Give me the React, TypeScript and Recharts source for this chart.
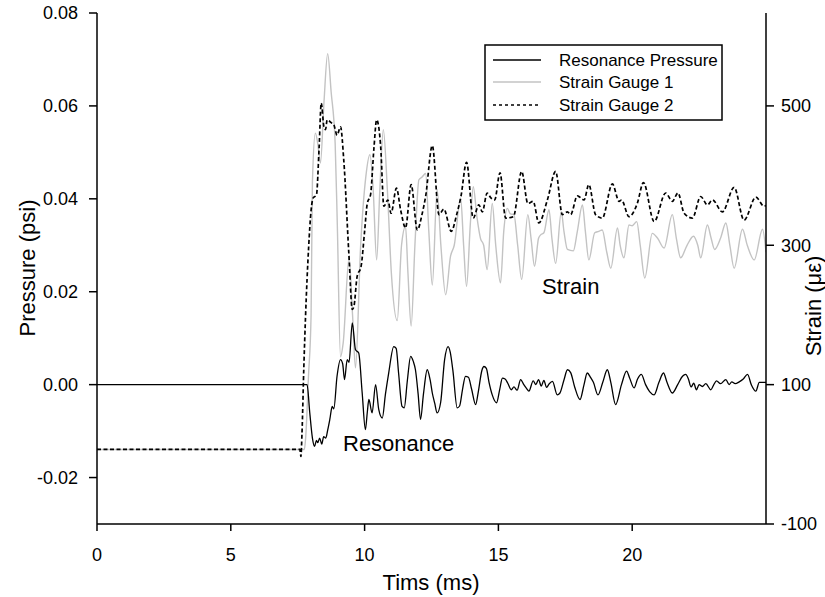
import { ComposedChart, Line, XAxis, YAxis } from "recharts";

// time (ms) vs pressure (psi)
const resonancePressure: [number, number][] = [
  [0, 0], [7.85, 0], [7.95, -0.006], [8.05, -0.0115], [8.13, -0.0133], [8.2, -0.012],
  [8.25, -0.0125], [8.32, -0.0115], [8.4, -0.0128], [8.47, -0.0112], [8.55, -0.0115],
  [8.62, -0.0098], [8.7, -0.0075], [8.79, -0.0047], [8.85, -0.0052], [8.97, 0.0018],
  [9.1, 0.0054], [9.18, 0.0045], [9.25, 0.0011], [9.35, 0.0054], [9.42, 0.0048],
  [9.54, 0.0133], [9.66, 0.0075], [9.78, 0.0068], [9.91, -0.0018], [10.03, -0.0097],
  [10.1, -0.006], [10.16, -0.0032], [10.28, -0.0061], [10.41, 0.0], [10.53, -0.0054],
  [10.66, -0.0072], [10.78, -0.002], [10.9, 0.0025], [11.09, 0.0082], [11.18, 0.0078],
  [11.27, 0.0025], [11.4, -0.0047], [11.48, -0.005], [11.6, 0.001], [11.72, 0.0061],
  [11.82, 0.005], [11.9, 0.0032], [12.0, -0.002], [12.09, -0.0075], [12.2, -0.002],
  [12.34, 0.0032], [12.45, 0.001], [12.53, -0.0018], [12.62, -0.004], [12.71, -0.0061],
  [12.84, -0.0039], [12.99, 0.0054], [13.12, 0.0082], [13.2, 0.007], [13.3, 0.003],
  [13.46, -0.005], [13.55, -0.0046], [13.66, -0.001], [13.77, 0.0018], [13.88, 0.0016],
  [14.0, -0.001], [14.15, -0.0043], [14.25, -0.0015], [14.38, 0.003], [14.46, 0.0039],
  [14.55, 0.0035], [14.65, 0.0005], [14.77, -0.0022], [14.93, -0.0039], [15.05, -0.001],
  [15.15, 0.0014], [15.25, 0.0012], [15.35, 0.0003], [15.48, -0.0011], [15.58, -0.0005],
  [15.7, -0.0012], [15.83, 0.0011], [15.95, 0.0], [16.05, -0.0008], [16.14, -0.0014],
  [16.3, 0.0008], [16.4, 0.0], [16.5, 0.0011], [16.6, -0.0003], [16.7, 0.0009],
  [16.8, -0.0006], [16.9, 0.0002], [17.02, 0.0007], [17.2, -0.0022], [17.3, -0.0018],
  [17.45, 0.001], [17.58, 0.0032], [17.7, 0.0026], [17.85, -0.0005], [18.05, -0.0032],
  [18.2, 0.0], [18.32, 0.0025], [18.45, 0.0015], [18.55, 0.0005], [18.72, -0.0022],
  [18.9, 0.0005], [19.07, 0.0032], [19.2, 0.0005], [19.38, -0.0043], [19.6, 0.0],
  [19.79, 0.0029], [19.9, 0.0015], [20.07, -0.0007], [20.2, 0.0012], [20.34, 0.0022],
  [20.5, 0.0], [20.65, -0.0015], [20.82, -0.0022], [21.0, 0.0005], [21.17, 0.0025],
  [21.3, 0.0005], [21.5, -0.0018], [21.7, 0.0], [21.88, 0.0018], [22.0, 0.0022],
  [22.1, 0.0012], [22.2, -0.0005], [22.3, 0.0003], [22.4, -0.0011], [22.5, 0.0],
  [22.62, -0.0004], [22.75, 0.0002], [22.94, -0.0011], [23.05, 0.0], [23.15, 0.0008],
  [23.3, 0.0002], [23.5, 0.0011], [23.62, 0.0], [23.72, 0.0006], [23.85, 0.0002],
  [24.0, 0.0006], [24.15, 0.0012], [24.31, 0.0022], [24.45, 0.0], [24.62, -0.0014],
  [24.75, 0.0005], [24.87, 0.0005], [25, 0.0005],
];

// time (ms) vs strain (micro-strain)
const strainGauge1: [number, number][] = [
  [0, 7], [7.75, 7], [7.8, 25], [7.9, 110], [8.0, 200], [8.05, 390], [8.16, 461],
  [8.25, 446], [8.35, 418], [8.48, 504], [8.62, 575], [8.75, 520], [8.9, 446],
  [8.98, 330], [9.1, 140], [9.2, 160], [9.42, 282], [9.55, 200], [9.66, 124],
  [9.85, 298], [10.05, 400], [10.2, 430], [10.32, 380], [10.45, 279], [10.57, 380],
  [10.7, 466], [10.85, 380], [11.0, 260], [11.22, 192], [11.38, 300], [11.53, 327],
  [11.62, 260], [11.74, 184], [11.88, 300], [12.03, 394], [12.15, 398], [12.28, 403],
  [12.4, 320], [12.53, 243], [12.71, 380], [12.85, 300], [13.03, 229], [13.21, 284],
  [13.35, 300], [13.59, 368], [13.7, 300], [13.81, 241], [13.95, 330], [14.06, 384],
  [14.2, 340], [14.33, 310], [14.45, 300], [14.58, 265], [14.77, 360], [14.9, 300],
  [15.08, 246], [15.2, 320], [15.33, 353], [15.45, 345], [15.58, 344], [15.72, 300],
  [15.87, 251], [16.1, 344], [16.22, 310], [16.35, 270], [16.5, 310], [16.58, 315],
  [16.7, 318], [16.89, 351], [17.0, 310], [17.14, 274], [17.35, 348], [17.45, 320],
  [17.58, 294], [17.8, 292], [17.95, 320], [18.14, 358], [18.25, 320], [18.38, 279],
  [18.6, 318], [18.75, 320], [18.88, 322], [19.05, 290], [19.2, 267], [19.45, 325],
  [19.55, 300], [19.69, 282], [19.88, 329], [20.0, 328], [20.17, 334], [20.3, 300],
  [20.47, 253], [20.75, 317], [20.95, 310], [21.19, 296], [21.5, 344], [21.65, 310],
  [21.81, 282], [22.05, 300], [22.29, 313], [22.45, 300], [22.56, 282], [22.81, 329],
  [22.95, 310], [23.08, 294], [23.3, 310], [23.5, 332], [23.65, 300], [23.81, 267],
  [24.12, 323], [24.3, 300], [24.56, 279], [24.87, 323], [25, 290],
];

const strainGauge2: [number, number][] = [
  [0, 7], [7.58, 7], [7.62, -3], [7.66, 30], [7.73, 126], [7.79, 195], [7.91, 298],
  [8.0, 350], [8.08, 368], [8.2, 372], [8.3, 440], [8.38, 504], [8.48, 470],
  [8.54, 466], [8.6, 480], [8.75, 476], [8.85, 473], [8.97, 458], [9.1, 470],
  [9.22, 423], [9.41, 289], [9.54, 208], [9.6, 212], [9.72, 255], [9.87, 270],
  [10.0, 320], [10.1, 360], [10.22, 372], [10.35, 440], [10.45, 480], [10.6, 442],
  [10.72, 356], [10.87, 365], [10.99, 346], [11.19, 382], [11.35, 350], [11.53, 325],
  [11.74, 387], [11.97, 322], [12.15, 345], [12.28, 370], [12.53, 443], [12.78, 344],
  [12.96, 352], [13.24, 320], [13.44, 344], [13.6, 370], [13.81, 419], [14.06, 339],
  [14.27, 358], [14.4, 348], [14.58, 375], [14.72, 368], [14.86, 365], [15.06, 404],
  [15.27, 339], [15.56, 341], [15.87, 406], [16.1, 360], [16.3, 363], [16.51, 332],
  [16.83, 365], [17.14, 406], [17.39, 344], [17.58, 348], [17.7, 344], [17.95, 371],
  [18.2, 365], [18.38, 387], [18.63, 344], [18.88, 339], [19.26, 388], [19.51, 363],
  [19.6, 365], [19.88, 341], [20.19, 360], [20.42, 390], [20.82, 334], [21.25, 375],
  [21.5, 363], [21.71, 375], [21.94, 346], [22.25, 339], [22.56, 370], [22.81, 358],
  [23.0, 365], [23.37, 348], [23.81, 383], [24.18, 336], [24.62, 369], [24.93, 356],
  [25, 357],
];

const timeTicks = [0, 5, 10, 15, 20];
const pressureTicks = [-0.02, 0, 0.02, 0.04, 0.06, 0.08];
const strainTicks = [-100, 100, 300, 500];

const toRows = (pts: [number, number][]) => pts.map(([t, y]) => ({ t, y }));

const FONT = "'Liberation Sans', Arial, sans-serif";
const axisStyle = { stroke: "#000", strokeWidth: 1.5 };

export default function App() {
  return (
    <div
      style={{
        position: "absolute",
        left: 0,
        top: 0,
        width: 825,
        height: 597,
        background: "#fff",
        fontFamily: FONT,
      }}
    >
      <ComposedChart
        width={825}
        height={597}
        margin={{ top: 13, right: 9, bottom: 33, left: 37 }}
      >
        <XAxis
          type="number"
          dataKey="t"
          domain={[0, 25]}
          ticks={timeTicks}
          allowDataOverflow
          height={40}
          axisLine={axisStyle}
          tickLine={axisStyle}
          tickSize={7}
          tickMargin={17}
          tick={{ fill: "#000", fontSize: 18, fontFamily: FONT }}
        />
        <YAxis
          yAxisId="p"
          type="number"
          domain={[-0.03, 0.08]}
          ticks={pressureTicks}
          allowDataOverflow
          width={60}
          tickFormatter={(v: number) => v.toFixed(2)}
          axisLine={axisStyle}
          tickLine={axisStyle}
          tickSize={8}
          tickMargin={11}
          tick={{ fill: "#000", fontSize: 18, fontFamily: FONT }}
        />
        <YAxis
          yAxisId="s"
          orientation="right"
          type="number"
          domain={[-100, 633.33]}
          ticks={strainTicks}
          allowDataOverflow
          width={50}
          axisLine={axisStyle}
          tickLine={axisStyle}
          tickSize={8}
          tickMargin={7}
          tick={{ fill: "#000", fontSize: 18, fontFamily: FONT }}
        />
        <Line
          yAxisId="s"
          data={toRows(strainGauge1)}
          dataKey="y"
          type="monotone"
          stroke="#c3c3c3"
          strokeWidth={1.4}
          dot={false}
          isAnimationActive={false}
        />
        <Line
          yAxisId="s"
          data={toRows(strainGauge2)}
          dataKey="y"
          type="monotone"
          stroke="#000"
          strokeWidth={1.7}
          strokeDasharray="4 2.5"
          dot={false}
          isAnimationActive={false}
        />
        <Line
          yAxisId="p"
          data={toRows(resonancePressure)}
          dataKey="y"
          type="monotone"
          stroke="#000"
          strokeWidth={1.3}
          dot={false}
          isAnimationActive={false}
        />
      </ComposedChart>

      {/* titles, annotations, legend */}
      <svg
        width={825}
        height={597}
        style={{ position: "absolute", left: 0, top: 0, pointerEvents: "none" }}
        fontFamily={FONT}
      >
        <text x={431} y={590} textAnchor="middle" fontSize={22}>
          Tims (ms)
        </text>
        <text x={35} y={268} textAnchor="middle" fontSize={22} transform="rotate(-90 35 268)">
          Pressure (psi)
        </text>
        <text x={821} y={306} textAnchor="middle" fontSize={22} transform="rotate(-90 821 306)">
          Strain (με)
        </text>
        <text x={343} y={451} fontSize={22}>
          Resonance
        </text>
        <text x={542} y={294} fontSize={22}>
          Strain
        </text>
        <rect x={485} y={45} width={237} height={75} fill="#fff" stroke="#000" strokeWidth={1.5} />
        <line x1={493} y1={60} x2={541} y2={60} stroke="#000" strokeWidth={1.6} />
        <line x1={493} y1={82} x2={541} y2={82} stroke="#c3c3c3" strokeWidth={1.4} />
        <line x1={493} y1={105} x2={541} y2={105} stroke="#000" strokeWidth={1.3} strokeDasharray="3 3" />
        <text x={559} y={66} fontSize={17}>Resonance Pressure</text>
        <text x={559} y={88} fontSize={17}>Strain Gauge 1</text>
        <text x={559} y={111} fontSize={17}>Strain Gauge 2</text>
      </svg>
    </div>
  );
}
